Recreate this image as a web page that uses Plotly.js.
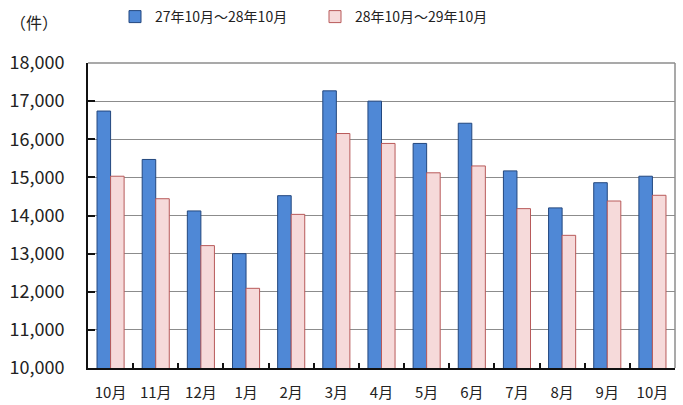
<!DOCTYPE html>
<html>
<head>
<meta charset="utf-8">
<script src="https://cdn.plot.ly/plotly-3.0.1.min.js"></script>
<style>html,body{margin:0;padding:0;background:#fff;}#chart{width:683px;height:405px;}</style>
</head>
<body>
<div id="chart"></div>
<script>
const monthLabels = ['10月','11月','12月','1月','2月','3月','4月','5月','6月','7月','8月','9月','10月'];
const seriesNames = ['27年10月～28年10月','28年10月～29年10月'];
const valuesPrev = [16740, 15470, 14120, 13000, 14520, 17270, 17000, 15890, 16420, 15170, 14200, 14860, 15030];
const valuesCurr = [15030, 14440, 13210, 12090, 14030, 16150, 15890, 15120, 15300, 14180, 13480, 14380, 14530];
const yTicks = [10000, 11000, 12000, 13000, 14000, 15000, 16000, 17000, 18000];

const idx = monthLabels.map((_, i) => i);
const boundaries = monthLabels.slice(0, -1).map((_, i) => i + 0.5);
const font = 'Noto Sans CJK JP, Noto Sans, sans-serif';

const traces = [
  {type:'bar', x: idx, y: valuesPrev, name: seriesNames[0],
   marker:{color:'#4f88d6', line:{color:'#23477e', width:1}}},
  {type:'bar', x: idx, y: valuesCurr, name: seriesNames[1],
   marker:{color:'#f6dada', line:{color:'#b85a5a', width:1}}},
  {type:'scatter', x: boundaries, y: boundaries.map(() => yTicks[0]), xaxis:'x2',
   mode:'markers', marker:{opacity:0}, showlegend:false, hoverinfo:'skip'}
];

const layout = {
  width: 683, height: 405,
  margin: {l: 88, r: 8, t: 63, b: 37},
  paper_bgcolor: '#fff', plot_bgcolor: '#fff',
  font: {family: font, color: '#222'},
  barmode: 'group', bargap: 0.4, bargroupgap: 0,
  showlegend: true,
  legend: {orientation: 'h', xref: 'container', yref: 'container',
           x: 115/683, xanchor: 'left', y: 1 - 17/405, yanchor: 'middle',
           font: {size: 14, family: font, color: '#222'}, entrywidth: 155, itemwidth: 30,
           traceorder: 'normal'},
  xaxis: {range: [-0.5, 12.5], tickmode: 'array', tickvals: idx, ticktext: monthLabels,
          ticks: '', showgrid: false, zeroline: false, showline: true, linecolor: '#111',
          linewidth: 2, mirror: false, tickfont: {size: 15, family: font, color: '#222'},
          ticklabelstandoff: 10},
  xaxis2: {overlaying: 'x', matches: 'x', range: [-0.5, 12.5], tickmode: 'array', tickvals: boundaries,
           ticks: 'inside', ticklen: 5, tickwidth: 2, tickcolor: '#111', showticklabels: false,
           showgrid: false, zeroline: false, showline: false, side: 'bottom'},
  yaxis: {range: [yTicks[0], yTicks[yTicks.length-1]], tickmode: 'array', tickvals: yTicks,
          ticktext: yTicks.map(v => v.toLocaleString('en-US')),
          ticks: 'inside', ticklen: 7, tickwidth: 2, tickcolor: '#111',
          showgrid: true, gridcolor: '#8c8c8c', gridwidth: 1, zeroline: false,
          showline: true, linecolor: '#111', linewidth: 2,
          tickfont: {size: 18, family: font, color: '#222'}, ticklabelstandoff: 18},
  shapes: [
    {type:'line', xref:'paper', yref:'paper', x0:0, x1:1, y0:1, y1:1, line:{color:'#8c8c8c', width:1.5}},
    {type:'line', xref:'paper', yref:'paper', x0:1, x1:1, y0:0, y1:1, line:{color:'#8c8c8c', width:1.5}}
  ],
  annotations: [
    {text: '（件）', xref: 'paper', yref: 'paper', x: -80/588, y: 1 + 41/305, xanchor: 'left', yanchor: 'middle',
     showarrow: false, font: {size: 16, family: font, color: '#222'}}
  ]
};

Plotly.newPlot('chart', traces, layout, {staticPlot: true, displayModeBar: false});
</script>
</body>
</html>
